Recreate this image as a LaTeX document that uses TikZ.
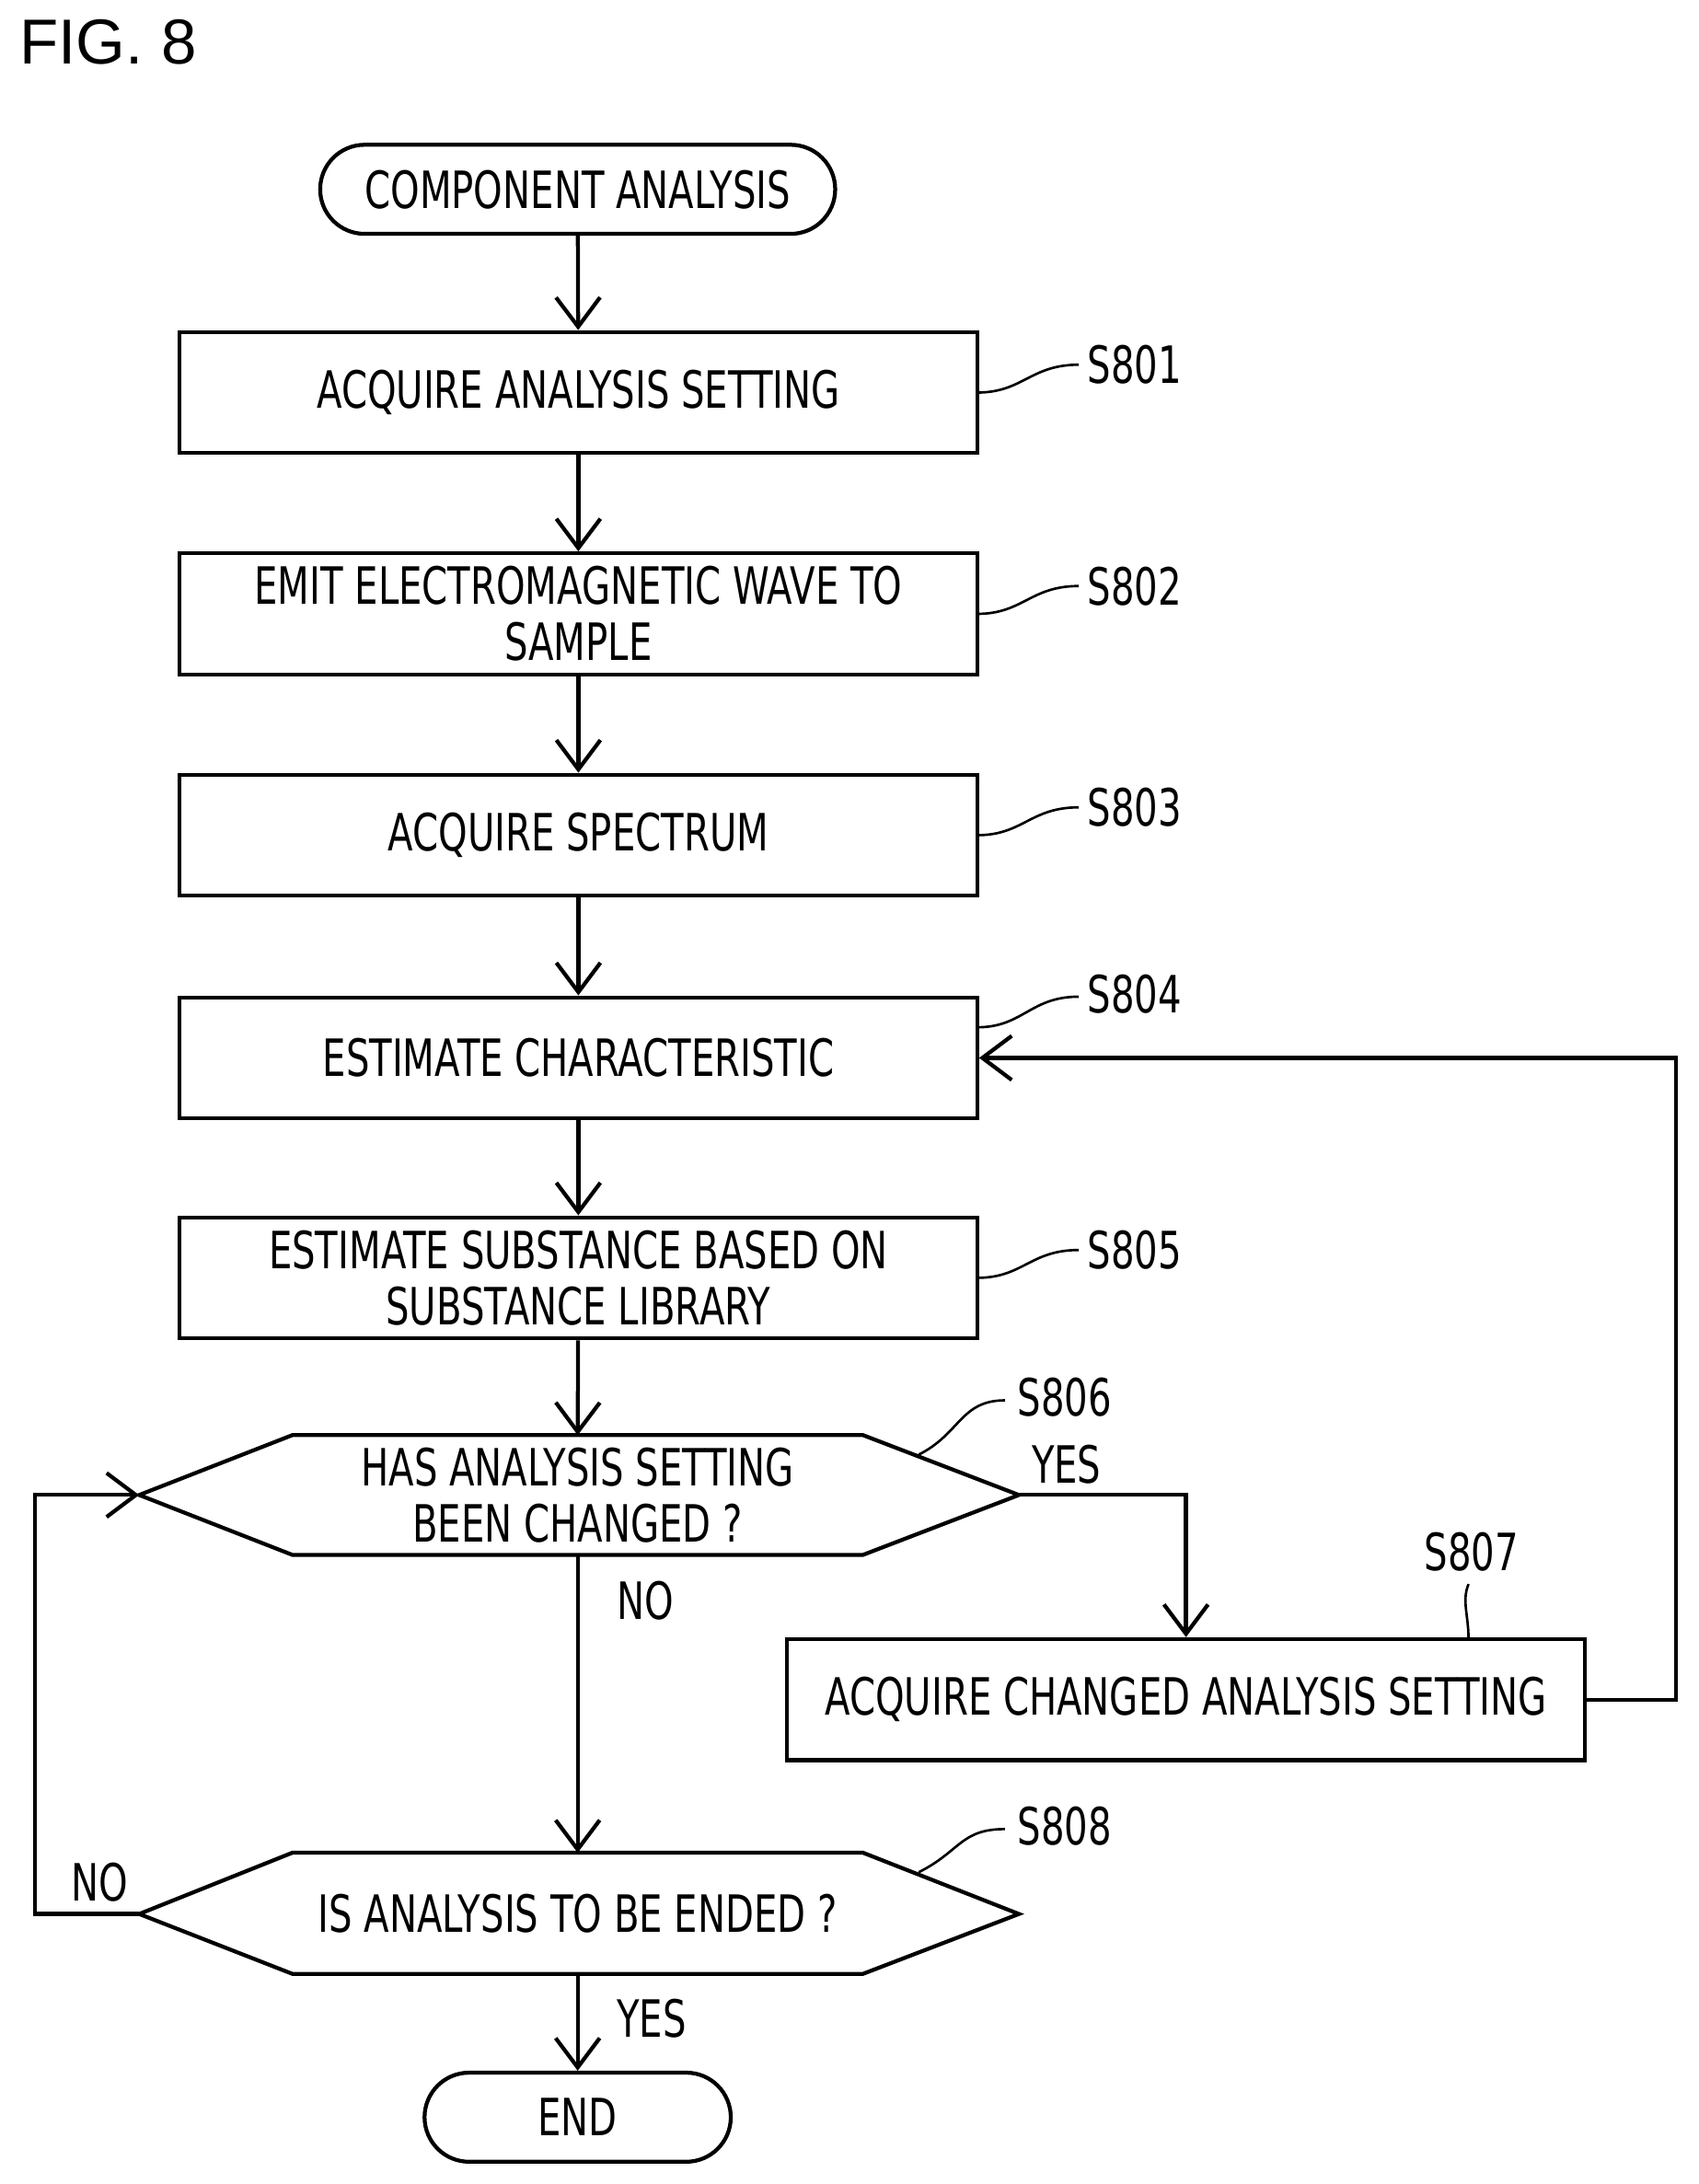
\documentclass[tikz,border=0pt]{standalone}
\usepackage{fontspec}
\setmainfont{DejaVu Sans}[FakeStretch=0.72]
\newfontfamily\figfont{Liberation Sans}
\usetikzlibrary{arrows.meta}
\begin{document}
\begin{tikzpicture}[x=0.02cm,y=-0.02cm,
  font=\fontsize{21}{23}\selectfont,
  box/.style={draw,line width=1.6pt,minimum width=573*0.02cm,minimum height=87*0.02cm,align=center,inner sep=0pt},
  term/.style={draw,line width=1.6pt,rounded corners=32*0.02cm,minimum height=64*0.02cm,inner sep=0pt},
  line/.style={line width=1.6pt},
  arr/.style={line width=1.6pt,-{Straight Barb[length=12pt,width=18pt,line width=1.6pt]}},
  squig/.style={line width=1pt},
  lab/.style={anchor=west}]
\useasboundingbox (0,0) rectangle (1220,1569);
\node[anchor=north west,font=\figfont\fontsize{26}{28}\selectfont] (fig) at (8,8) {FIG. 8};
\node[term,minimum width=370*0.02cm] (start) at (415,136) {COMPONENT ANALYSIS};
\node[box] (s801) at (415.5,282) {ACQUIRE ANALYSIS SETTING};
\node[box] (s802) at (415.5,441) {EMIT ELECTROMAGNETIC WAVE TO\\SAMPLE};
\node[box] (s803) at (415.5,600) {ACQUIRE SPECTRUM};
\node[box] (s804) at (415.5,760) {ESTIMATE CHARACTERISTIC};
\node[box] (s805) at (415.5,918) {ESTIMATE SUBSTANCE BASED ON\\SUBSTANCE LIBRARY};
\node[box] (s807) at (852,1221) {ACQUIRE CHANGED ANALYSIS SETTING};
\node[term,minimum width=220*0.02cm] (end) at (415,1521) {END};
% decisions
\draw[line] (100,1074) -- (210,1031) -- (620,1031) -- (732,1074) -- (620,1117) -- (210,1117) -- cycle;
\node[align=center] (s806) at (415,1074) {HAS ANALYSIS SETTING\\BEEN CHANGED ?};
\coordinate (d1l) at (100,1074); \coordinate (d1r) at (732,1074); \coordinate (d1b) at (415,1117);
\draw[line] (100,1375) -- (210,1331) -- (620,1331) -- (732,1375) -- (620,1418) -- (210,1418) -- cycle;
\node (s808) at (415,1375) {IS ANALYSIS TO BE ENDED ?};
\coordinate (d2l) at (100,1375); \coordinate (d2t) at (415,1331); \coordinate (d2b) at (415,1418);
% arrows
\draw[arr] (start) -- (s801);
\draw[arr] (s801) -- (s802);
\draw[arr] (s802) -- (s803);
\draw[arr] (s803) -- (s804);
\draw[arr] (s804) -- (s805);
\draw[arr] (s805) -- (415,1031);
\draw[arr] (d1b) -- (d2t);
\draw[arr] (d2b) -- (end);
\draw[arr] (d1r) -- (852,1074) -- (s807);
\draw[arr] (s807.east) -- (1204,1221) -- (1204,760) -- (s804.east);
\draw[arr] (d2l) -- (25,1375) -- (25,1074) -- (d1l);
% labels
\node[lab] at (735,1052) {YES};
\node[lab] at (437,1150) {NO};
\node[lab] at (45,1352) {NO};
\node[lab] at (437,1450) {YES};
% step labels
\foreach \n/\y in {801/282,802/441,803/600,805/918}{
  \draw[squig] (702,\y) .. controls (735,\y) and (740,\y-20) .. (775,\y-20);
  \node[lab] at (775,\y-20) {S\n};}
\draw[squig] (702,738) .. controls (735,738) and (740,716) .. (775,716);
\node[lab] at (775,714) {S804};
\draw[squig] (660,1045) .. controls (690,1030) and (690,1006) .. (722,1006);
\node[lab] at (725,1004) {S806};
\draw[squig] (660,1345) .. controls (690,1330) and (690,1314) .. (722,1314);
\node[lab] at (725,1312) {S808};
\draw[squig] (1055,1178) .. controls (1055,1160) and (1050,1150) .. (1055,1138);
\node at (1057,1115) {S807};
\end{tikzpicture}
\end{document}
